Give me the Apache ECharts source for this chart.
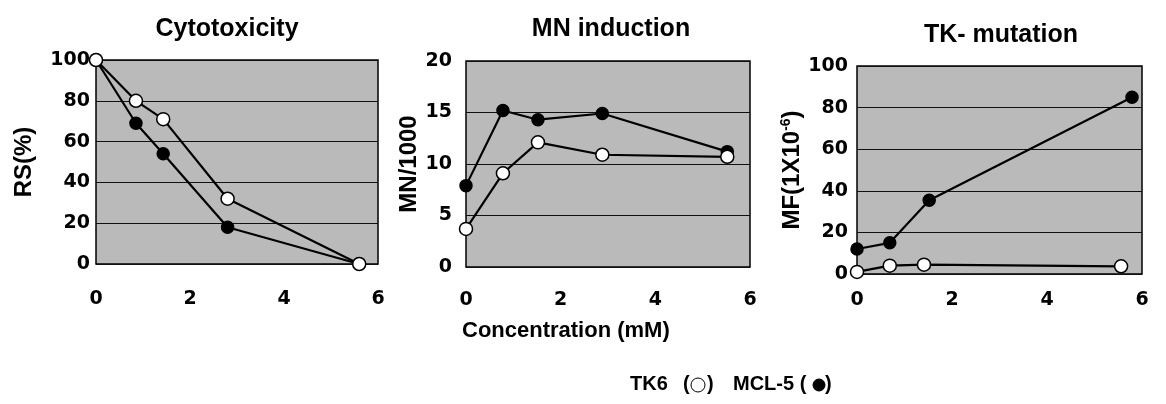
<!DOCTYPE html>
<html>
    <head>
        <meta charset="utf-8">
        <title></title>
        <script src="https://cdn.jsdelivr.net/npm/echarts@6/dist/echarts.min.js"></script>
        <style>
            html,body{margin:0;padding:0;background:#fff;}
        </style>
    </head>
    <body>
        <div id="main" style="width:1166px;height:404px;"></div>
    </body>
</html>

<script>
    // Cytotoxicity (RS %)
    var cytoConc=[0,0.85,1.43,2.8,5.6];
    var cytoTK6=[100,80,71,32,0];
    var cytoMCL=[100,69,54,18,0];

    // MN induction (MN/1000)
    var mnConc=[0,0.78,1.52,2.88,5.52];
    var mnTK6=[3.7,9.1,12.1,10.9,10.7];
    var mnMCL=[7.9,15.2,14.3,14.9,11.2];

    // TK- mutation (MF x10^-6)
    var tkConcTK6=[0,0.69,1.41,5.56];
    var tkTK6=[1,4,4.5,3.7];
    var tkConcMCL=[0,0.69,1.52,5.79];
    var tkMCL=[12,15,35.5,85];

    var xTicks=[0,2,4,6];
    var titles=['Cytotoxicity','MN induction','TK- mutation'];

    function pairs(xs,ys){
        var out=[];
        for(var i=0;i<xs.length;i++){
            out.push([xs[i],ys[i]]);
        }
        return out;
    }

    window.onload=function(){
        var myChart=echarts.init(document.getElementById('main'));
        var font='"Liberation Sans", Arial, sans-serif';
        var tickFont='"DejaVu Sans", sans-serif';

        var grids=[
            {left:96,top:60,width:282,height:204},
            {left:466,top:61,width:284,height:206},
            {left:857,top:66,width:285,height:208}
        ];
        grids.forEach(function(g){
            g.show=true;
            g.backgroundColor='#bababa';
            g.borderColor='#000';
            g.borderWidth=1.5;
        });

        var xMargins=[26,24,17];
        var xAxes=grids.map(function(g,i){
            return {
                type:'value',gridIndex:i,min:0,max:6,interval:2,
                axisLine:{show:false},axisTick:{show:false},splitLine:{show:false},
                axisLabel:{
                    margin:xMargins[i],color:'#000',fontFamily:tickFont,fontWeight:'bold',fontSize:19,
                    formatter:function(v){return xTicks.indexOf(v)>=0?String(v):'';}
                }
            };
        });

        var yCommon=function(i,max,interval,name,gap,margin){
            return {
                type:'value',gridIndex:i,min:0,max:max,interval:interval,
                name:name,nameLocation:'middle',nameRotate:90,nameGap:gap,
                nameTextStyle:{
                    color:'#000',fontFamily:font,fontWeight:'bold',fontSize:24,
                    rich:{sup:{fontSize:14,fontWeight:'bold',fontFamily:font,color:'#000',verticalAlign:'top',padding:[0,0,12,0]}}
                },
                axisLine:{show:false},axisTick:{show:false},
                splitLine:{show:true,lineStyle:{color:'#111',width:1}},
                axisLabel:{margin:margin,color:'#000',fontFamily:tickFont,fontWeight:'bold',fontSize:19}
            };
        };

        var yAxes=[
            yCommon(0,100,20,'RS(%)',60,6),
            yCommon(1,20,5,'MN/1000',41,14),
            yCommon(2,100,20,'MF(1X10{sup|-6})',51,9)
        ];

        function lineSeries(idx,data,open){
            return {
                type:'line',xAxisIndex:idx,yAxisIndex:idx,data:data,
                symbol:'circle',symbolSize:open?13:12,clip:false,
                lineStyle:{color:'#000',width:2.2},
                itemStyle:{color:open?'#fff':'#000',borderColor:'#000',borderWidth:1.5},
                z:open?3:2
            };
        }

        var titleCenters=[222,606,996];
        var titleTops=[12,12,18];

        var option={
            backgroundColor:'#fff',
            animation:false,
            title:titles.map(function(t,i){
                return {
                    text:t,left:titleCenters[i],top:titleTops[i],textAlign:'center',
                    textStyle:{color:'#000',fontFamily:font,fontWeight:'bold',fontSize:25}
                };
            }),
            grid:grids,
            xAxis:xAxes,
            yAxis:yAxes,
            series:[
                lineSeries(0,pairs(cytoConc,cytoMCL),false),
                lineSeries(0,pairs(cytoConc,cytoTK6),true),
                lineSeries(1,pairs(mnConc,mnMCL),false),
                lineSeries(1,pairs(mnConc,mnTK6),true),
                lineSeries(2,pairs(tkConcMCL,tkMCL),false),
                lineSeries(2,pairs(tkConcTK6,tkTK6),true)
            ],
            graphic:[
                {type:'text',left:462,top:320,style:{text:'Concentration (mM)',fill:'#000',font:'bold 22px '+font}},
                {type:'text',left:630,top:374,style:{text:'TK6',fill:'#000',font:'bold 20px '+font}},
                {type:'text',left:683,top:374,style:{text:'(',fill:'#000',font:'bold 20px '+font}},
                {type:'circle',shape:{cx:698,cy:385,r:7},style:{fill:'#fff',stroke:'#000',lineWidth:1}},
                {type:'text',left:707,top:374,style:{text:')',fill:'#000',font:'bold 20px '+font}},
                {type:'text',left:733,top:374,style:{text:'MCL-5 (',fill:'#000',font:'bold 20px '+font}},
                {type:'circle',shape:{cx:819,cy:385,r:6},style:{fill:'#000',stroke:'#000',lineWidth:1}},
                {type:'text',left:825,top:374,style:{text:')',fill:'#000',font:'bold 20px '+font}}
            ]
        };

        myChart.setOption(option);
    }
</script>
